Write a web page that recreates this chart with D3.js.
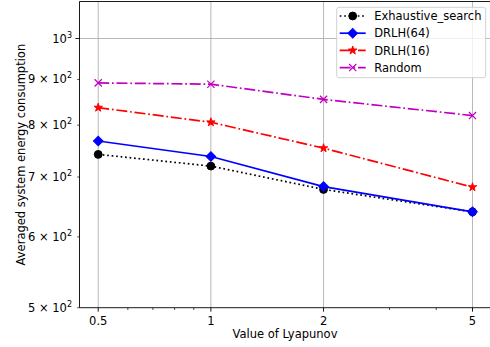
<!DOCTYPE html>
<html>
<head>
<meta charset="utf-8">
<script src="https://cdn.jsdelivr.net/npm/d3@7"></script>
<style>
  body { margin: 0; background: #fff; }
  text { font-family: "DejaVu Sans", sans-serif; fill: #000; }
</style>
</head>
<body>
<div id="container"></div>
<script>
// 1. Data
const lyapunov = [0.5, 1, 2, 5]
const exhaustive = [742, 720, 678, 640]
const drlh64 = [768, 738, 683, 640]
const drlh16 = [837, 806, 754, 682]
const random = [892, 889, 855, 820]

const xTicks = [0.5, 1, 2, 5]
const xMinorTicks = [0.6, 0.7, 0.8, 0.9, 3, 4]
const yMajorTicks = [1000]
const yMinorTicks = [500, 600, 700, 800, 900]

const series = [
	{ name: "Exhaustive_search", values: exhaustive, color: "#000000", dash: "1.7,2.8", marker: "circle" },
	{ name: "DRLH(64)", values: drlh64, color: "#0000ff", dash: null, marker: "diamond" },
	{ name: "DRLH(16)", values: drlh16, color: "#ff0000", dash: "11,2.8,1.7,2.8", marker: "star" },
	{ name: "Random", values: random, color: "#bf00bf", dash: "11,2.8,1.7,2.8", marker: "x" },
]

// 2. Dimensions
const width = 490
const height = 347
const plot = { left: 79.5, top: 1.5, bottom: 307.7 }
const fontSize = 11.5

// 3. Canvas
const svg = d3.select("#container")
	.append("svg")
	.attr("width", width)
	.attr("height", height)

// 4. Scales
const x = d3.scaleLog()
	.domain([0.5 * Math.pow(10, -0.05), 5 * Math.pow(10, 0.05)])
	.range([plot.left, 491.2])

const y = d3.scaleLog()
	.domain([500, 1100])
	.range([plot.bottom, plot.top])

// grid
const grid = svg.append("g")
grid.selectAll(".gx")
	.data(xTicks)
	.join("line")
	.attr("x1", d => x(d)).attr("x2", d => x(d))
	.attr("y1", plot.top).attr("y2", plot.bottom)
	.attr("stroke", "#b0b0b0").attr("stroke-width", 0.9)
grid.selectAll(".gy")
	.data(yMajorTicks)
	.join("line")
	.attr("x1", plot.left).attr("x2", width)
	.attr("y1", d => y(d)).attr("y2", d => y(d))
	.attr("stroke", "#b0b0b0").attr("stroke-width", 0.9)

// 5. Data
const line = d3.line()
	.x((d, i) => x(lyapunov[i]))
	.y(d => y(d))

const markerPath = {
	circle: d3.symbol(d3.symbolCircle, 48)(),
	diamond: d3.symbol(d3.symbolSquare, 46)(),
	star: d3.symbol(d3.symbolStar, 22)(),
	x: "M-3.6,-3.6L3.6,3.6M-3.6,3.6L3.6,-3.6",
}

function drawMarker(g, s) {
	const p = g.append("path").attr("d", markerPath[s.marker])
	if (s.marker === "x") {
		p.attr("fill", "none").attr("stroke", s.color).attr("stroke-width", 1.2)
	} else {
		p.attr("fill", s.color).attr("stroke", s.color).attr("stroke-width", 1)
	}
	if (s.marker === "diamond") p.attr("transform", "rotate(45)")
	return p
}

series.forEach(s => {
	svg.append("path")
		.datum(s.values)
		.attr("d", line)
		.attr("fill", "none")
		.attr("stroke", s.color)
		.attr("stroke-width", 1.7)
		.attr("stroke-dasharray", s.dash)
	svg.selectAll(null)
		.data(s.values)
		.join("g")
		.attr("transform", (d, i) => `translate(${x(lyapunov[i])},${y(d)})`)
		.each(function () { drawMarker(d3.select(this), s) })
})

// 6. Axes
svg.append("line")
	.attr("x1", plot.left).attr("x2", plot.left)
	.attr("y1", plot.top).attr("y2", plot.bottom)
	.attr("stroke", "#000").attr("stroke-width", 0.9)
svg.append("line")
	.attr("x1", plot.left).attr("x2", width)
	.attr("y1", plot.bottom).attr("y2", plot.bottom)
	.attr("stroke", "#000").attr("stroke-width", 0.9)
svg.append("line")
	.attr("x1", plot.left).attr("x2", width)
	.attr("y1", plot.top).attr("y2", plot.top)
	.attr("stroke", "#000").attr("stroke-width", 0.9)

// x ticks
svg.selectAll(".xt")
	.data(xTicks)
	.join("line")
	.attr("x1", d => x(d)).attr("x2", d => x(d))
	.attr("y1", plot.bottom).attr("y2", plot.bottom + 4)
	.attr("stroke", "#000").attr("stroke-width", 0.9)
svg.selectAll(".xmt")
	.data(xMinorTicks)
	.join("line")
	.attr("x1", d => x(d)).attr("x2", d => x(d))
	.attr("y1", plot.bottom).attr("y2", plot.bottom + 2.3)
	.attr("stroke", "#000").attr("stroke-width", 0.7)
svg.selectAll(".xl")
	.data(xTicks)
	.join("text")
	.attr("x", d => x(d))
	.attr("y", plot.bottom + 17.5)
	.attr("text-anchor", "middle")
	.attr("font-size", fontSize)
	.text(d => d)

// y ticks
svg.selectAll(".yt")
	.data(yMajorTicks)
	.join("line")
	.attr("x1", plot.left - 4).attr("x2", plot.left)
	.attr("y1", d => y(d)).attr("y2", d => y(d))
	.attr("stroke", "#000").attr("stroke-width", 0.9)
svg.selectAll(".ymt")
	.data(yMinorTicks)
	.join("line")
	.attr("x1", plot.left - 2.3).attr("x2", plot.left)
	.attr("y1", d => y(d)).attr("y2", d => y(d))
	.attr("stroke", "#000").attr("stroke-width", 0.7)

const yLabels = svg.selectAll(".yl")
	.data(yMajorTicks.concat(yMinorTicks))
	.join("text")
	.attr("x", plot.left - 7.5)
	.attr("y", d => y(d) + 4)
	.attr("text-anchor", "end")
	.attr("font-size", fontSize)
yLabels.each(function (d) {
	const t = d3.select(this)
	const exp = Math.floor(Math.log10(d) + 1e-9)
	const mant = Math.round(d / Math.pow(10, exp))
	t.append("tspan").text(mant === 1 ? "10" : `${mant} \u00d7 10`)
	t.append("tspan").attr("font-size", 8).attr("dy", -5).text(exp)
})

// axis labels
svg.append("text")
	.attr("x", 285)
	.attr("y", 338)
	.attr("text-anchor", "middle")
	.attr("font-size", fontSize)
	.text("Value of Lyapunov")

svg.append("text")
	.attr("transform", `translate(25,${(plot.top + plot.bottom) / 2}) rotate(-90)`)
	.attr("text-anchor", "middle")
	.attr("font-size", fontSize)
	.text("Averaged system energy consumption")

// legend
const legend = svg.append("g").attr("transform", "translate(336.7,7.3)")
legend.append("rect")
	.attr("width", 149).attr("height", 70.4)
	.attr("rx", 2.5)
	.attr("fill", "#fff").attr("fill-opacity", 0.8)
	.attr("stroke", "#cccccc").attr("stroke-width", 0.9)

series.forEach((s, i) => {
	const row = legend.append("g").attr("transform", `translate(0,${8.7 + i * 17.2})`)
	row.append("line")
		.attr("x1", 3).attr("x2", 29)
		.attr("stroke", s.color).attr("stroke-width", 1.7)
		.attr("stroke-dasharray", s.dash)
	const m = row.append("g").attr("transform", "translate(16,0)")
	drawMarker(m, s)
	row.append("text")
		.attr("x", 37.5)
		.attr("y", 4.1)
		.attr("font-size", fontSize)
		.text(s.name)
})
</script>
</body>
</html>
